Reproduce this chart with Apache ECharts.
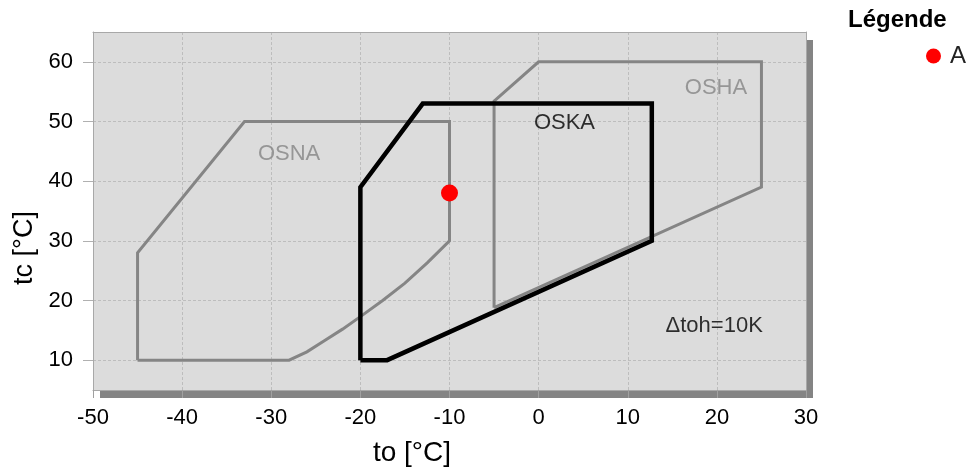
<!DOCTYPE html>
<html>
<head>
<meta charset="utf-8">
<script src="https://cdn.jsdelivr.net/npm/echarts@6/dist/echarts.min.js"></script>
<style>
html,body{margin:0;padding:0;background:#fff;}
#chart{width:971px;height:468px;}
</style>
</head>
<body>
<div id="chart"></div>
<script>
// ---- data ----
var xTicks = [-50, -40, -30, -20, -10, 0, 10, 20, 30];
var yTicks = [10, 20, 30, 40, 50, 60];

var osnaTo = [-45, -45, -33, -10, -10, -12.5, -15, -17.5, -20, -22, -24, -26, -28, -45];
var osnaTc = [10, 28, 50, 50, 30, 26.3, 22.9, 20, 17.3, 15.2, 13.3, 11.4, 10, 10];

var oshaTo = [-5, -5, 0, 25, 25, -5];
var oshaTc = [18.8, 53.4, 60, 60, 39, 18.8];

var oskaTo = [-20, -20, -13, 12.7, 12.7, -17, -20];
var oskaTc = [10, 39, 53, 53, 30, 10, 10];

var pointName = 'A';
var pointTo = [-10];
var pointTc = [38];

var labelText = ['OSNA', 'OSKA', 'OSHA', 'Δtoh=10K'];
var labelTo = [-28, 2.9, 19.9, 19.7];
var labelTc = [44.6, 49.7, 55.6, 15.8];
var labelGray = [true, false, true, false];

// ---- build ----
function pairs(xs, ys) { return xs.map(function (x, i) { return [x, ys[i]]; }); }

var FONT = '"Liberation Sans", Arial, sans-serif';
var GRAY = '#858585';
var BORDER = '#a8a8a8';

var labelData = labelText.map(function (t, i) {
  return {
    value: [labelTo[i], labelTc[i]],
    name: t,
    label: { color: labelGray[i] ? GRAY : '#000' }
  };
});

var chart = echarts.init(document.getElementById('chart'), null, { renderer: 'canvas' });
chart.setOption({
  animation: false,
  backgroundColor: '#fff',
  textStyle: { fontFamily: FONT },
  title: {
    text: 'Légende',
    left: 848, top: 8,
    padding: 0,
    textStyle: { fontFamily: FONT, fontSize: 24, fontWeight: 'bold', color: '#000' }
  },
  legend: {
    data: [pointName],
    left: 926, top: 44,
    padding: 0,
    icon: 'circle',
    itemWidth: 15, itemHeight: 15,
    itemStyle: { opacity: 1 },
    textStyle: { fontFamily: FONT, fontSize: 24, color: '#222', padding: [0, 0, 0, 4] }
  },
  grid: {
    left: 93, top: 32, right: 165, bottom: 78,
    outerBoundsMode: 'none',
    containLabel: false,
    show: true,
    backgroundColor: '#dcdcdc',
    borderWidth: 0,
    shadowColor: '#848484',
    shadowBlur: 0,
    shadowOffsetX: 7,
    shadowOffsetY: 8
  },
  xAxis: [{
    type: 'value',
    min: -50, max: 30, interval: 10,
    name: 'to [°C]',
    nameLocation: 'middle',
    nameGap: 49,
    nameTextStyle: { fontFamily: FONT, fontSize: 28, color: '#000', padding: [0, 75, 0, 0] },
    axisLine: { show: true, onZero: false, lineStyle: { color: BORDER, width: 1 } },
    axisTick: { show: true, length: 8, lineStyle: { color: '#a0a0a0' } },
    axisLabel: { margin: 17, fontFamily: FONT, fontSize: 22, color: '#000', customValues: xTicks },
    splitLine: { show: true, lineStyle: { color: '#bdbdbd', type: [3, 2], width: 1 } }
  }, {
    type: 'value', position: 'top',
    min: -50, max: 30, interval: 10,
    axisLine: { show: true, onZero: false, lineStyle: { color: BORDER, width: 1 } },
    axisTick: { show: false }, axisLabel: { show: false }, splitLine: { show: false }
  }],
  yAxis: [{
    type: 'value',
    min: 5, max: 65,
    name: 'tc [°C]',
    nameLocation: 'middle',
    nameGap: 51,
    nameRotate: 90,
    nameTextStyle: { fontFamily: FONT, fontSize: 27, color: '#000', padding: [0, 74, 0, 0] },
    axisLine: { show: true, onZero: false, lineStyle: { color: BORDER, width: 1 } },
    axisTick: { show: true, length: 10, lineStyle: { color: '#b0b0b0' }, customValues: yTicks },
    axisLabel: { margin: 20, fontFamily: FONT, fontSize: 22, color: '#000', customValues: yTicks },
    splitLine: { show: true, lineStyle: { color: '#bdbdbd', type: [3, 2], width: 1 } }
  }, {
    type: 'value', position: 'right',
    min: 5, max: 65,
    axisLine: { show: true, onZero: false, lineStyle: { color: BORDER, width: 1 } },
    axisTick: { show: false }, axisLabel: { show: false }, splitLine: { show: false }
  }],
  series: [
    {
      name: 'OSNA', type: 'line', data: pairs(osnaTo, osnaTc),
      symbol: 'none', silent: true, z: 3,
      lineStyle: { color: GRAY, width: 3, join: 'miter' }
    },
    {
      name: 'OSHA', type: 'line', data: pairs(oshaTo, oshaTc),
      symbol: 'none', silent: true, z: 3,
      lineStyle: { color: GRAY, width: 3, join: 'miter' }
    },
    {
      name: 'OSKA', type: 'line', data: pairs(oskaTo, oskaTc),
      symbol: 'none', silent: true, z: 4,
      lineStyle: { color: '#000', width: 4.5, join: 'miter' }
    },
    {
      name: 'labels', type: 'scatter', data: labelData,
      symbolSize: 1, silent: true, z: 5,
      itemStyle: { color: 'rgba(0,0,0,0)' },
      label: { show: true, position: 'inside', formatter: '{b}', fontFamily: FONT, fontSize: 22 }
    },
    {
      name: pointName, type: 'scatter', data: pairs(pointTo, pointTc),
      symbol: 'circle', symbolSize: 17, z: 6,
      itemStyle: { color: '#ff0000', opacity: 1 }
    }
  ]
});
</script>
</body>
</html>
